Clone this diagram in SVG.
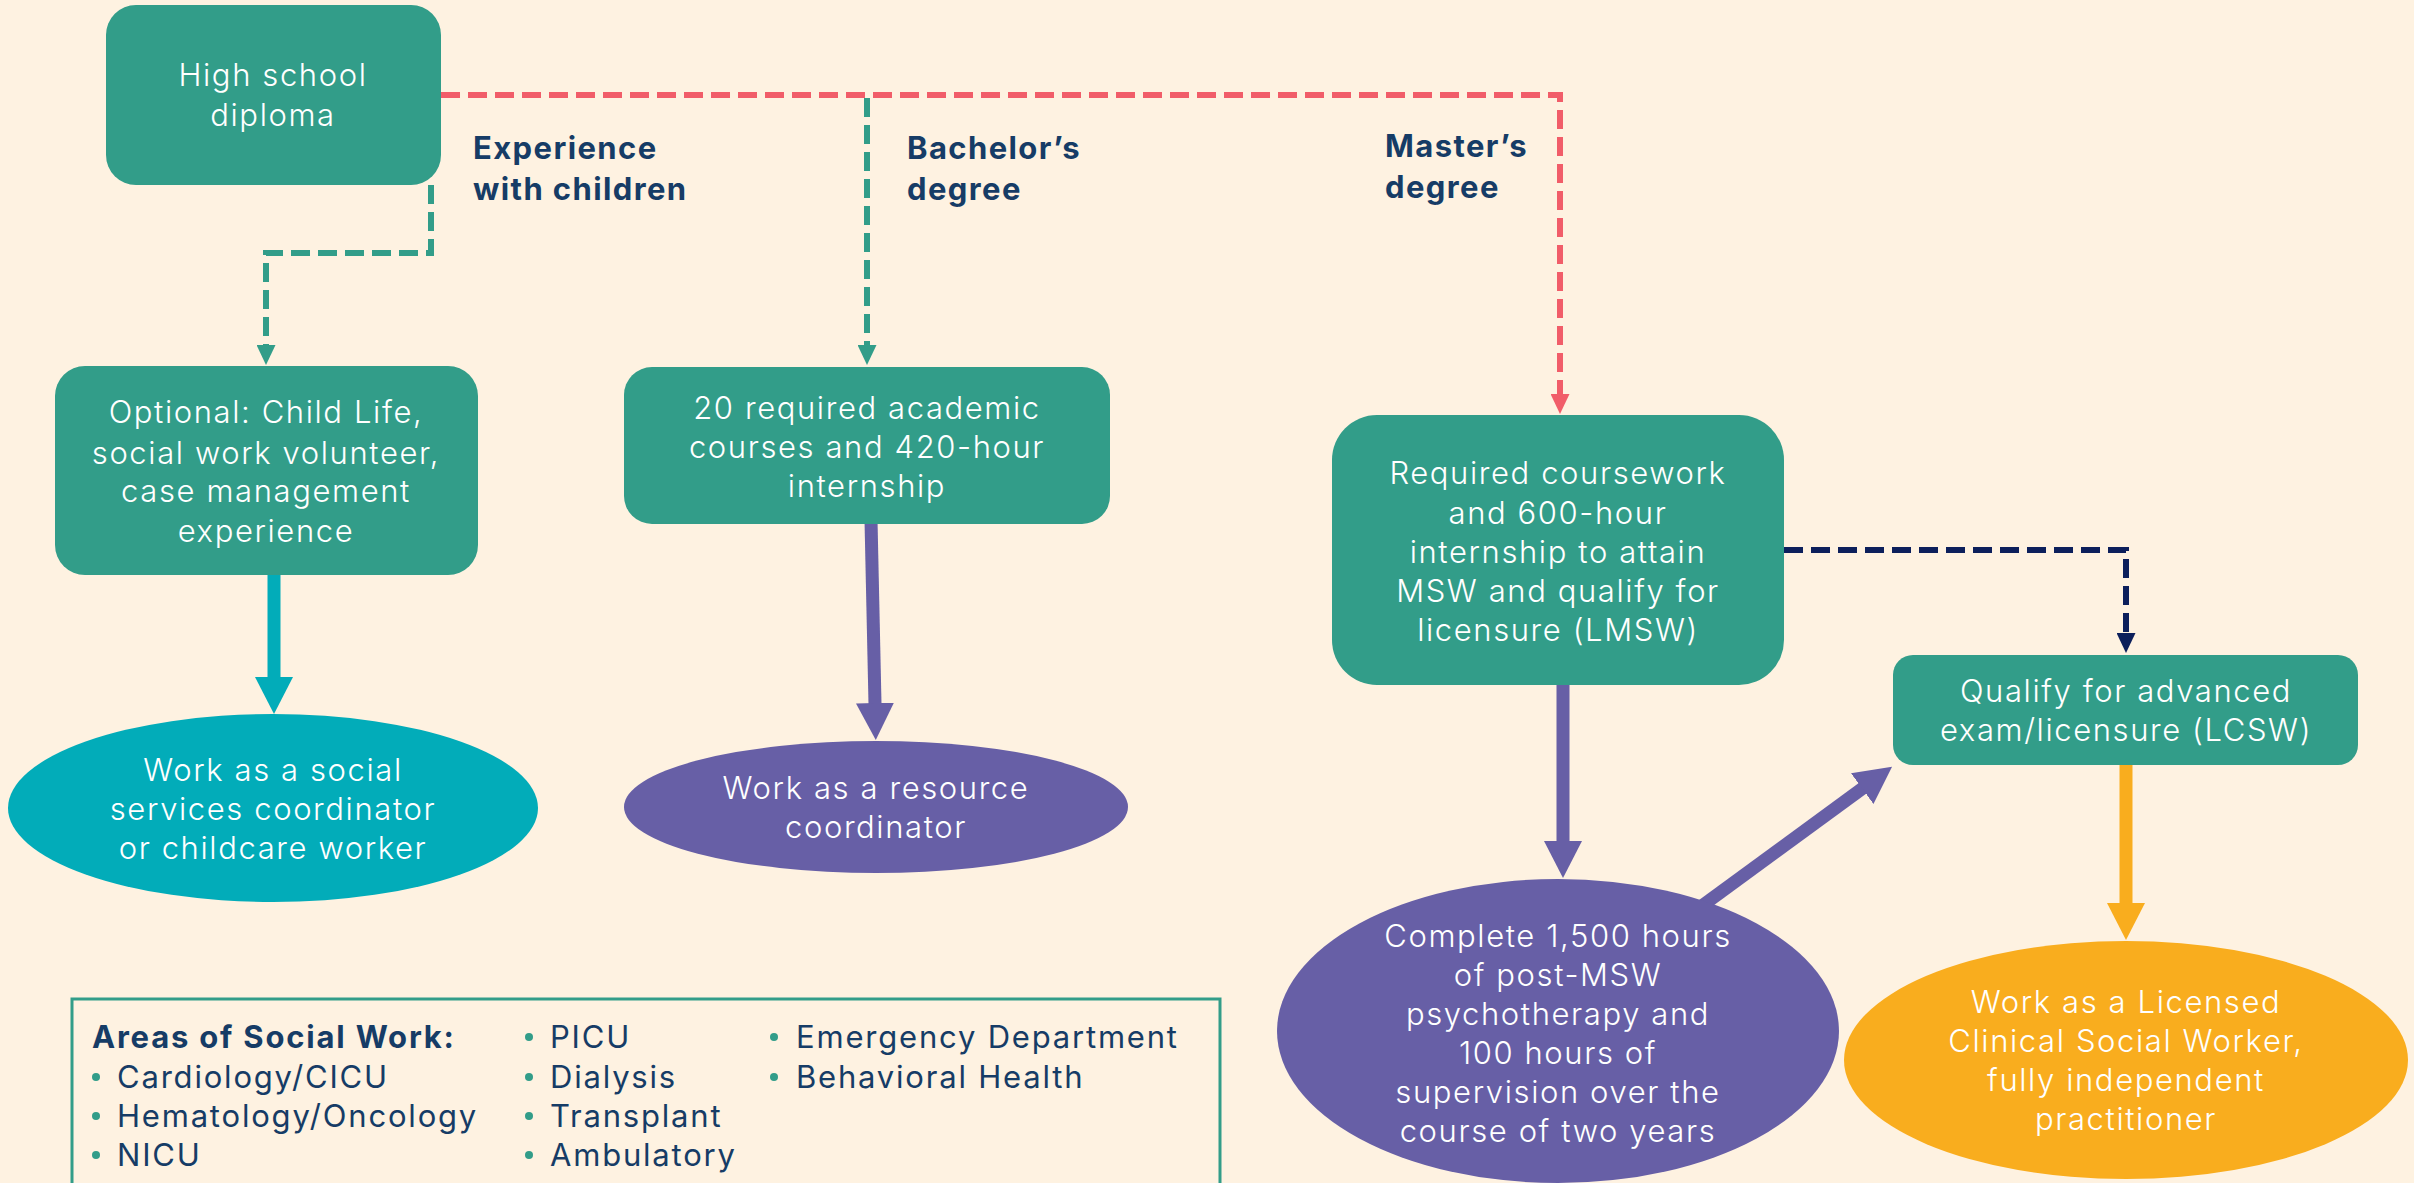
<svg xmlns="http://www.w3.org/2000/svg" width="2414" height="1183" viewBox="0 0 2414 1183">
<style>
.box{fill:#329d89}
.wt{fill:#ffffff;font-family:Inter,"Open Sans","Liberation Sans",sans-serif;font-size:31px;font-weight:300;letter-spacing:1.6px;text-anchor:middle}
.lbl{fill:#163c66;font-family:Inter,"Open Sans","Liberation Sans",sans-serif;font-size:31px;font-weight:700;letter-spacing:1.4px}
.lg{fill:#163c66;font-family:Inter,"Open Sans","Liberation Sans",sans-serif;font-size:31px;letter-spacing:1.8px}
.bul{fill:#329d89}
.dash{fill:none;stroke-width:6;stroke-dasharray:19 8}
.solid{fill:none;stroke-width:13}
</style>
<defs>
<marker id="hCyan" markerUnits="userSpaceOnUse" viewBox="0 0 37 38" refX="1" refY="19" markerWidth="37" markerHeight="38" orient="auto"><path d="M0,0 L37,19 L0,38 z" fill="#02acb9"/></marker>
<marker id="hPurple" markerUnits="userSpaceOnUse" viewBox="0 0 37 38" refX="1" refY="19" markerWidth="37" markerHeight="38" orient="auto"><path d="M0,0 L37,19 L0,38 z" fill="#675fa6"/></marker>
<marker id="hOrange" markerUnits="userSpaceOnUse" viewBox="0 0 37 38" refX="1" refY="19" markerWidth="37" markerHeight="38" orient="auto"><path d="M0,0 L37,19 L0,38 z" fill="#f9ad1e"/></marker>
<marker id="sGreen" markerUnits="userSpaceOnUse" viewBox="0 0 20 19" refX="1" refY="9.5" markerWidth="20" markerHeight="19" orient="auto"><path d="M0,0 L20,9.5 L0,19 z" fill="#329d89"/></marker>
<marker id="sRed" markerUnits="userSpaceOnUse" viewBox="0 0 20 19" refX="1" refY="9.5" markerWidth="20" markerHeight="19" orient="auto"><path d="M0,0 L20,9.5 L0,19 z" fill="#f15d69"/></marker>
<marker id="sNavy" markerUnits="userSpaceOnUse" viewBox="0 0 20 19" refX="1" refY="9.5" markerWidth="20" markerHeight="19" orient="auto"><path d="M0,0 L20,9.5 L0,19 z" fill="#0c1f5b"/></marker>
</defs>
<rect width="2414" height="1183" fill="#fef2e1"/>

<g id="connectors">
<path class="dash" stroke="#329d89" d="M431,185 V253 H266 V346" marker-end="url(#sGreen)"/>
<path class="dash" stroke="#329d89" d="M867,98 V346" marker-end="url(#sGreen)"/>
<path class="dash" stroke="#f15d69" d="M441,95 H1560 V395" marker-end="url(#sRed)"/>
<path class="dash" stroke="#0c1f5b" d="M1784,550 H2126 V634" marker-end="url(#sNavy)"/>
<path class="solid" stroke="#02acb9" d="M274,570 V678" marker-end="url(#hCyan)"/>
<path class="solid" stroke="#675fa6" d="M871,520 L875,704" marker-end="url(#hPurple)"/>
<path class="solid" stroke="#675fa6" d="M1563,680 V842" marker-end="url(#hPurple)"/>
<path class="solid" stroke="#675fa6" d="M1695,911 L1863,788" marker-end="url(#hPurple)"/>
<path class="solid" stroke="#f9ad1e" d="M2126,760 V904" marker-end="url(#hOrange)"/>
</g>

<g id="labels">
<text class="lbl" x="473" y="159">Experience</text>
<text class="lbl" x="473" y="200">with children</text>
<text class="lbl" x="907" y="159">Bachelor’s</text>
<text class="lbl" x="907" y="200">degree</text>
<text class="lbl" x="1385" y="157">Master’s</text>
<text class="lbl" x="1385" y="198">degree</text>
</g>

<g id="highschool">
<rect class="box" x="106" y="5" width="335" height="180" rx="30"/>
<text class="wt" x="273" y="86">High school</text>
<text class="wt" x="273" y="126">diploma</text>
</g>

<g id="optional">
<rect class="box" x="55" y="366" width="423" height="209" rx="30"/>
<text class="wt" x="266" y="423">Optional: Child Life,</text>
<text class="wt" x="266" y="464">social work volunteer,</text>
<text class="wt" x="266" y="502">case management</text>
<text class="wt" x="266" y="542">experience</text>
</g>

<g id="bachelor">
<rect class="box" x="624" y="367" width="486" height="157" rx="28"/>
<text class="wt" x="867" y="419">20 required academic</text>
<text class="wt" x="867" y="458">courses and 420-hour</text>
<text class="wt" x="867" y="497">internship</text>
</g>

<g id="masters">
<rect class="box" x="1332" y="415" width="452" height="270" rx="45"/>
<text class="wt" x="1558" y="484">Required coursework</text>
<text class="wt" x="1558" y="524">and 600-hour</text>
<text class="wt" x="1558" y="563">internship to attain</text>
<text class="wt" x="1558" y="602">MSW and qualify for</text>
<text class="wt" x="1558" y="641">licensure (LMSW)</text>
</g>

<g id="qualify">
<rect class="box" x="1893" y="655" width="465" height="110" rx="20"/>
<text class="wt" x="2126" y="702">Qualify for advanced</text>
<text class="wt" x="2126" y="741">exam/licensure (LCSW)</text>
</g>

<g id="socialservices">
<ellipse cx="273" cy="808" rx="265" ry="94" fill="#02acb9"/>
<text class="wt" x="273" y="781">Work as a social</text>
<text class="wt" x="273" y="820">services coordinator</text>
<text class="wt" x="273" y="859">or childcare worker</text>
</g>

<g id="resource">
<ellipse cx="876" cy="807" rx="252" ry="66" fill="#675fa6"/>
<text class="wt" x="876" y="799">Work as a resource</text>
<text class="wt" x="876" y="838">coordinator</text>
</g>

<g id="complete">
<ellipse cx="1558" cy="1031" rx="281" ry="152" fill="#675fa6"/>
<text class="wt" x="1558" y="947">Complete 1,500 hours</text>
<text class="wt" x="1558" y="986">of post-MSW</text>
<text class="wt" x="1558" y="1025">psychotherapy and</text>
<text class="wt" x="1558" y="1064">100 hours of</text>
<text class="wt" x="1558" y="1103">supervision over the</text>
<text class="wt" x="1558" y="1142">course of two years</text>
</g>

<g id="lcsw">
<ellipse cx="2126" cy="1060" rx="282" ry="119" fill="#f9ad1e"/>
<text class="wt" x="2126" y="1013">Work as a Licensed</text>
<text class="wt" x="2126" y="1052">Clinical Social Worker,</text>
<text class="wt" x="2126" y="1091">fully independent</text>
<text class="wt" x="2126" y="1130">practitioner</text>
</g>

<g id="legend">
<rect x="72" y="999" width="1148" height="200" fill="none" stroke="#329d89" stroke-width="3"/>
<text class="lg" x="92" y="1048" font-weight="700" letter-spacing="1.4">Areas of Social Work:</text>
<circle class="bul" cx="96" cy="1077" r="4"/><text class="lg" x="117" y="1088">Cardiology/CICU</text>
<circle class="bul" cx="96" cy="1116" r="4"/><text class="lg" x="117" y="1127">Hematology/Oncology</text>
<circle class="bul" cx="96" cy="1155" r="4"/><text class="lg" x="117" y="1166">NICU</text>
<circle class="bul" cx="529" cy="1037" r="4"/><text class="lg" x="550" y="1048">PICU</text>
<circle class="bul" cx="529" cy="1077" r="4"/><text class="lg" x="550" y="1088">Dialysis</text>
<circle class="bul" cx="529" cy="1116" r="4"/><text class="lg" x="550" y="1127">Transplant</text>
<circle class="bul" cx="529" cy="1155" r="4"/><text class="lg" x="550" y="1166">Ambulatory</text>
<circle class="bul" cx="774" cy="1037" r="4"/><text class="lg" x="796" y="1048">Emergency Department</text>
<circle class="bul" cx="774" cy="1077" r="4"/><text class="lg" x="796" y="1088">Behavioral Health</text>
</g>
</svg>
